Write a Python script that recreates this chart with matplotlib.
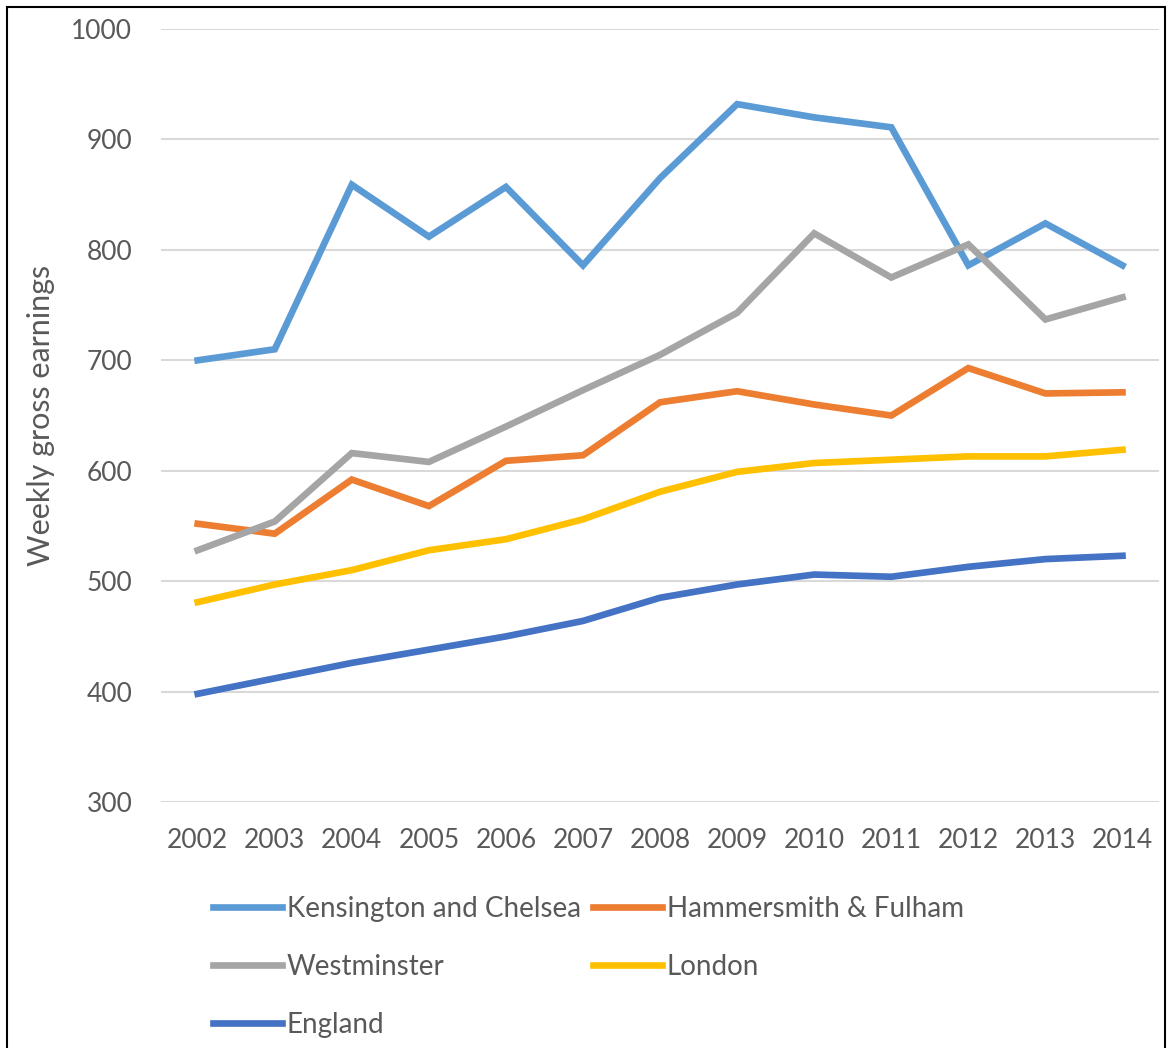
import matplotlib.pyplot as plt
from matplotlib.patches import Rectangle

years = list(range(2002, 2015))

kensington = [700, 710, 859, 812, 857, 786, 865, 932, 920, 911, 786, 824, 786]
hammersmith = [552, 543, 592, 568, 609, 614, 662, 672, 660, 650, 693, 670, 671]
westminster = [528, 554, 616, 608, 640, 673, 705, 743, 815, 775, 805, 737, 757]
london = [481, 497, 510, 528, 538, 556, 581, 599, 607, 610, 613, 613, 619]
england = [398, 412, 426, 438, 450, 464, 485, 497, 506, 504, 513, 520, 523]

plt.rcParams['font.family'] = ['Lato', 'DejaVu Sans']
txt = '#595959'

fig = plt.figure(figsize=(11.7, 10.48), dpi=100)
ax = fig.add_axes([0.138, 0.2347, 0.853, 0.7376])

lw = 4.8
lk, = ax.plot(years, kensington, color='#5B9BD5', lw=lw, solid_joinstyle='miter')
lh, = ax.plot(years, hammersmith, color='#ED7D31', lw=lw, solid_joinstyle='miter')
lwm, = ax.plot(years, westminster, color='#A5A5A5', lw=lw, solid_joinstyle='miter')
ll, = ax.plot(years, london, color='#FFC000', lw=lw, solid_joinstyle='miter')
le, = ax.plot(years, england, color='#4472C4', lw=lw, solid_joinstyle='miter')

ax.set_xlim(2001.53, 2014.48)
ax.set_ylim(300, 1000)
ax.set_yticks(range(300, 1001, 100))
ax.set_xticks(years)
ax.grid(axis='y', color='#D9D9D9', lw=1.5)
ax.set_axisbelow(True)
for s in ax.spines.values():
    s.set_visible(False)
ax.tick_params(length=0, labelsize=19, colors=txt)
ax.tick_params(axis='y', pad=21)
ax.tick_params(axis='x', pad=19)
ax.set_ylabel('Weekly gross earnings', fontsize=22, color=txt, labelpad=12)

leg = fig.legend([lk, lwm, le, lh, ll],
                 ['Kensington and Chelsea', 'Westminster', 'England',
                  'Hammersmith & Fulham', 'London'],
                 ncol=2, loc='upper left', bbox_to_anchor=(0.1725, 0.156),
                 frameon=False, fontsize=20, handlelength=2.5,
                 handletextpad=0.15, columnspacing=0.45, labelspacing=1.15,
                 borderaxespad=0)
for t in leg.get_texts():
    t.set_color(txt)

fig.patches.append(Rectangle((0.006, -0.01), 0.99, 1.003, transform=fig.transFigure,
                             fill=False, edgecolor='black', lw=1.5))

fig.savefig('out.png', dpi=100)
